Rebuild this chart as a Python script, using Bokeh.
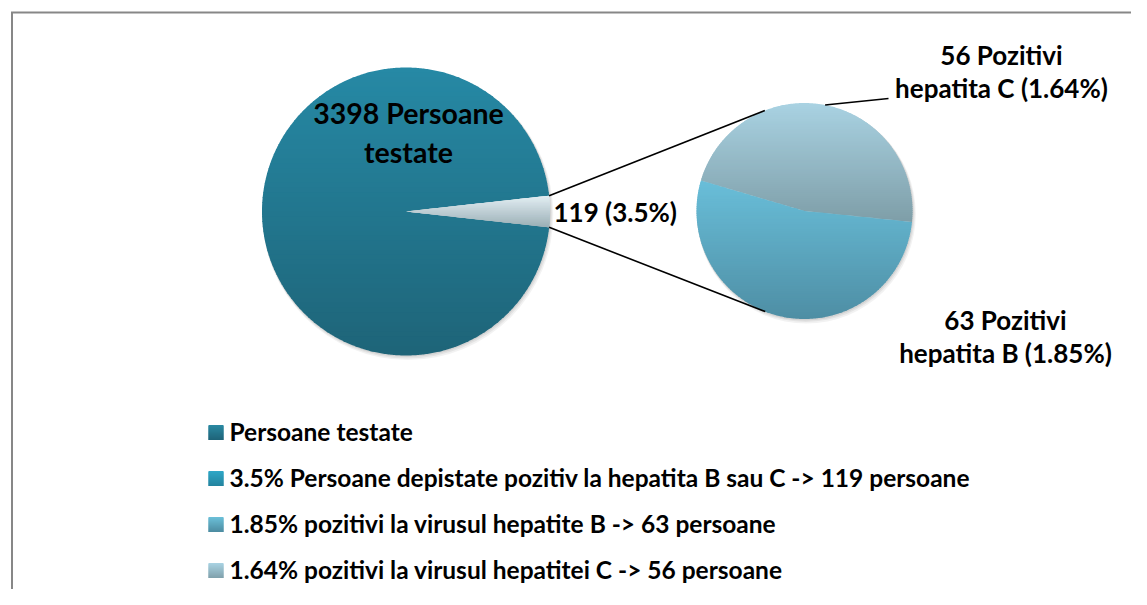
import math
import numpy as np
from bokeh.plotting import figure
from bokeh.models import Range1d
from bokeh.core.properties import value
from bokeh.embed import file_html
from bokeh.resources import INLINE

# ---------------- data ----------------
total_tested = 3398
main_categories = ["Persoane testate", "Pozitivi hepatita B sau C"]
main_values = [3279, 119]            # sum = 3398 persoane testate
positive_total = 119
positive_pct = "3.5"
sub_categories = ["hepatita C", "hepatita B"]
sub_values = [56, 63]
sub_pct = ["1.64", "1.85"]
legend_labels = [
    "Persoane testate",
    "3.5% Persoane depistate pozitiv la hepatita B sau C -> 119 persoane",
    "1.85% pozitivi la virusul hepatite B -> 63 persoane",
    "1.64% pozitivi la virusul hepatitei C -> 56 persoane",
]
legend_top = ["#2A89A2", "#2EA7C7", "#6BC0D9", "#A9D3E3"]
legend_bottom = ["#1E6378", "#23839E", "#4C8BA0", "#7FA0AB"]
main_top = ["#2689A5", "#E3EFF4"]
main_bottom = ["#1E6478", "#9AAEB5"]
sub_top = ["#A9D2E2", "#69BED9"]
sub_bottom = ["#7E9EA8", "#4E8EA4"]

# ---------------- layout ----------------
W, H = 1131, 589
FONT = value("Lato")
C1 = (405.5, 211.0); R1 = 144.0
C2 = (804.0, 210.5); R2 = 108.0
SUB_START = -5.8  # rotation of second pie (deg)
BASE_FIX = 0.385  # correction of the baseline placement, in em
LEG_Y0, LEG_DY, LEG_FS = 432, 46, 24.5

p = figure(width=W, height=H, output_backend="svg", toolbar_location=None,
           x_range=Range1d(0, W), y_range=Range1d(H, 0),
           min_border=0, border_fill_color="white", background_fill_color="white",
           outline_line_color=None)
p.axis.visible = False
p.grid.visible = False


def hex2rgb(h):
    h = h.lstrip("#")
    return np.array([int(h[i:i + 2], 16) for i in (0, 2, 4)], dtype=float)


def lerp(c0, c1, f):
    a, b = hex2rgb(c0), hex2rgb(c1)
    c = a + (b - a) * f
    return "#%02x%02x%02x" % tuple(int(round(v)) for v in c)


def wedge_pts(c, r, a0, a1):
    n = max(8, int(abs(a1 - a0) * 2))
    t = np.radians(np.linspace(a0, a1, n))
    xs = np.concatenate([[c[0]], c[0] + r * np.cos(t)])
    ys = np.concatenate([[c[1]], c[1] - r * np.sin(t)])
    return list(zip(xs, ys))


def clip(pts, yc, keep_ge):
    out = []
    n = len(pts)
    for i in range(n):
        cur, prev = pts[i], pts[i - 1]
        cin = cur[1] >= yc if keep_ge else cur[1] <= yc
        pin = prev[1] >= yc if keep_ge else prev[1] <= yc
        if cin != pin:
            t = (yc - prev[1]) / (cur[1] - prev[1])
            out.append((prev[0] + t * (cur[0] - prev[0]), yc))
        if cin:
            out.append(cur)
    return out


def gradient_bands(pts, ctop, cbot, nb=60):
    ys = [q[1] for q in pts]
    y0, y1 = min(ys), max(ys)
    edges = np.linspace(y0, y1, nb + 1)
    bx, by, bc = [], [], []
    for i in range(nb):
        lo = edges[i]
        hi = edges[i + 1] + (0.9 if i < nb - 1 else 0.0)
        q = clip(pts, lo, True)
        if len(q) < 3:
            continue
        q = clip(q, hi, False)
        if len(q) < 3:
            continue
        bx.append([v[0] for v in q]); by.append([v[1] for v in q])
        bc.append(lerp(ctop, cbot, (i + 0.5) / nb))
    return bx, by, bc


def bl(ys, fs):
    return [y - BASE_FIX * fs for y in ys]


# frame of the chart area
p.segment(x0=[11.5, 10.5], y0=[12, 12], x1=[11.5, W], y1=[H, 12],
          line_color="#878787", line_width=2)

# soft shadows
for (c, r) in ((C1, R1), (C2, R2)):
    for k, a in ((3.0, 0.05), (2.0, 0.06), (1.0, 0.07)):
        p.circle(x=[c[0] + k * 0.6], y=[c[1] + k], radius=r + k * 0.5,
                 fill_color="black", fill_alpha=a, line_color=None)

# ---- main pie ----
half = main_values[1] / sum(main_values) * 180.0
main_angles = [(half, 360 - half), (-half, half)]
for i, (a0, a1) in enumerate(main_angles):
    pts = wedge_pts(C1, R1, a0, a1)
    bx, by, bc = gradient_bands(pts, main_top[i], main_bottom[i])
    p.patches(bx, by, fill_color=bc, line_color=None)

# ---- second pie ----
a = SUB_START
for i, v in enumerate(sub_values):
    span = v / sum(sub_values) * 360.0
    pts = wedge_pts(C2, R2, a, a + span)
    bx, by, bc = gradient_bands(pts, sub_top[i], sub_bottom[i])
    p.patches(bx, by, fill_color=bc, line_color=None)
    a += span

# ---- connector lines (tangent to second pie) ----
cx0, cy0, cx1, cy1 = [], [], [], []
for sgn in (1, -1):
    px = C1[0] + R1 * math.cos(math.radians(half))
    py = C1[1] - sgn * R1 * math.sin(math.radians(half))
    dx, dy = px - C2[0], -(py - C2[1])
    d = math.hypot(dx, dy)
    base = math.degrees(math.atan2(dy, dx))
    phi = math.degrees(math.acos(R2 / d))
    ang = math.radians(base - sgn * phi)
    cx0.append(px); cy0.append(py)
    cx1.append(C2[0] + R2 * math.cos(ang)); cy1.append(C2[1] - R2 * math.sin(ang))
p.segment(x0=cx0, y0=cy0, x1=cx1, y1=cy1, line_color="black", line_width=1.6)

# leader line for hepatita C label
la = math.radians(79)
p.segment(x0=[C2[0] + R2 * math.cos(la)], y0=[C2[1] - R2 * math.sin(la)],
          x1=[888], y1=[98], line_color="black", line_width=1.6)

# ---- labels ----
txt = dict(text_font=FONT, text_font_style="bold", text_color="black",
           text_baseline="alphabetic")
p.text(x=[408, 408], y=bl([123, 162], 28.5),
       text=[f"{total_tested} Persoane", "testate"],
       text_align="center", text_font_size="28.5px", **txt)
p.text(x=[553], y=bl([222], 26), text=[f"{positive_total} ({positive_pct}%)"],
       text_align="left", text_font_size="26px", **txt)
p.text(x=[1001, 1001], y=bl([65, 98], 26),
       text=[f"{sub_values[0]} Pozitivi", f"{sub_categories[0]} ({sub_pct[0]}%)"],
       text_align="center", text_font_size="26px", **txt)
p.text(x=[1005, 1005], y=bl([330, 363], 26),
       text=[f"{sub_values[1]} Pozitivi", f"{sub_categories[1]} ({sub_pct[1]}%)"],
       text_align="center", text_font_size="26px", **txt)

# ---- legend ----
for i, lab in enumerate(legend_labels):
    yc = LEG_Y0 + LEG_DY * i
    sq = [(208, yc - 7.5), (223, yc - 7.5), (223, yc + 7.5), (208, yc + 7.5)]
    bx, by, bc = gradient_bands(sq, legend_top[i], legend_bottom[i], nb=15)
    p.patches(bx, by, fill_color=bc, line_color=None)
p.text(x=[229] * 4, y=bl([LEG_Y0 + 8 + LEG_DY * i for i in range(4)], LEG_FS),
       text=legend_labels, text_align="left", text_font_size=f"{LEG_FS}px", **txt)

open("out.html", "w").write(file_html(p, INLINE))
